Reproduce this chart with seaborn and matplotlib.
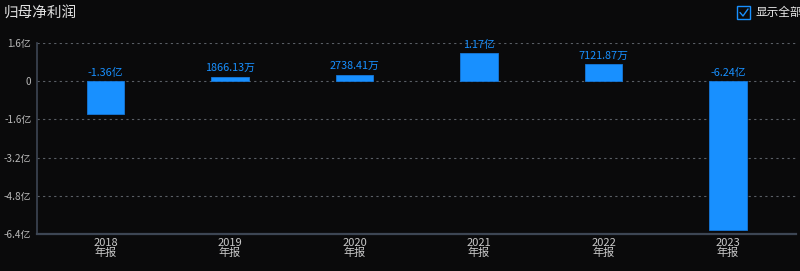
import matplotlib
matplotlib.use("Agg")
import matplotlib.pyplot as plt
import seaborn as sns
import pandas as pd
from matplotlib.patches import Rectangle

years = ["2018", "2019", "2020", "2021", "2022", "2023"]
period = ["年报", "年报", "年报", "年报", "年报", "年报"]
values = [-1.36, 0.186613, 0.273841, 1.17, 0.712187, -6.24]  # 亿
labels = ["-1.36亿", "1866.13万", "2738.41万", "1.17亿", "7121.87万", "-6.24亿"]
yticks = [1.6, 0, -1.6, -3.2, -4.8, -6.4]
ytick_labels = ["1.6亿", "0", "-1.6亿", "-3.2亿", "-4.8亿", "-6.4亿"]

sns.set_theme(style="dark")
plt.rcParams['font.family'] = ['Noto Sans CJK SC', 'DejaVu Sans']

bg = "#0a0a0b"
blue = "#1890ff"
fig = plt.figure(figsize=(8, 2.71), dpi=100, facecolor=bg)
ax = fig.add_axes([37/800, 37/271, 759/800, 191/271])
ax.set_facecolor(bg)

df = pd.DataFrame({"cat": [f"{y}\n{p}" for y, p in zip(years, period)], "val": values})
sns.barplot(data=df, x="cat", y="val", ax=ax, color=blue, width=0.3,
            saturation=1, edgecolor="#1677d8", linewidth=0.6)

ax.set_xlim(-0.55, 5.546)
ax.set_ylim(-6.4, 1.6)
ax.set_yticks(yticks)
ax.set_yticklabels(ytick_labels)
ax.set_xlabel("")
ax.set_ylabel("")
ax.tick_params(axis="y", colors="#b8b8b8", labelsize=7.2, length=0, pad=4)
ax.tick_params(axis="x", colors="#c8c8c8", labelsize=8, length=0, pad=3)
for lbl in ax.get_xticklabels():
    lbl.set_linespacing(0.9)

for y in yticks[:-1]:
    ax.axhline(y, color="#5a5f66", linestyle=(0, (2, 3)), linewidth=0.8, zorder=0)
ax.grid(False)

for s in ["top", "right"]:
    ax.spines[s].set_visible(False)
ax.spines["left"].set_visible(True)
ax.spines["left"].set_color("#3d4654")
ax.spines["left"].set_linewidth(1.2)
ax.spines["bottom"].set_visible(True)
ax.spines["bottom"].set_color("#3d4654")
ax.spines["bottom"].set_linewidth(1.6)

for i, (v, t) in enumerate(zip(values, labels)):
    ax.annotate(t, (i, max(v, 0)), xytext=(0, 2.5), textcoords="offset points",
                ha="center", va="bottom", color=blue, fontsize=7.8)

fig.text(4/800, 1 - 13/271, "归母净利润", color="#e0e0e0", fontsize=10.5, va="center", ha="left")

# checkbox
cb = Rectangle((737/800, 1 - 19/271), 13/800, 13/271, transform=fig.transFigure,
               fill=False, edgecolor=blue, linewidth=1.0)
fig.patches.append(cb)
fig.lines.append(plt.Line2D([740/800, 743/800, 748/800],
                            [1 - 12.5/271, 1 - 16/271, 1 - 9/271],
                            transform=fig.transFigure, color=blue, linewidth=1.0))
fig.text(755/800, 1 - 12.5/271, "显示全部数据", color="#e8e8e8", fontsize=8.4, va="center", ha="left")

fig.savefig("out.png", dpi=100, facecolor=bg)
